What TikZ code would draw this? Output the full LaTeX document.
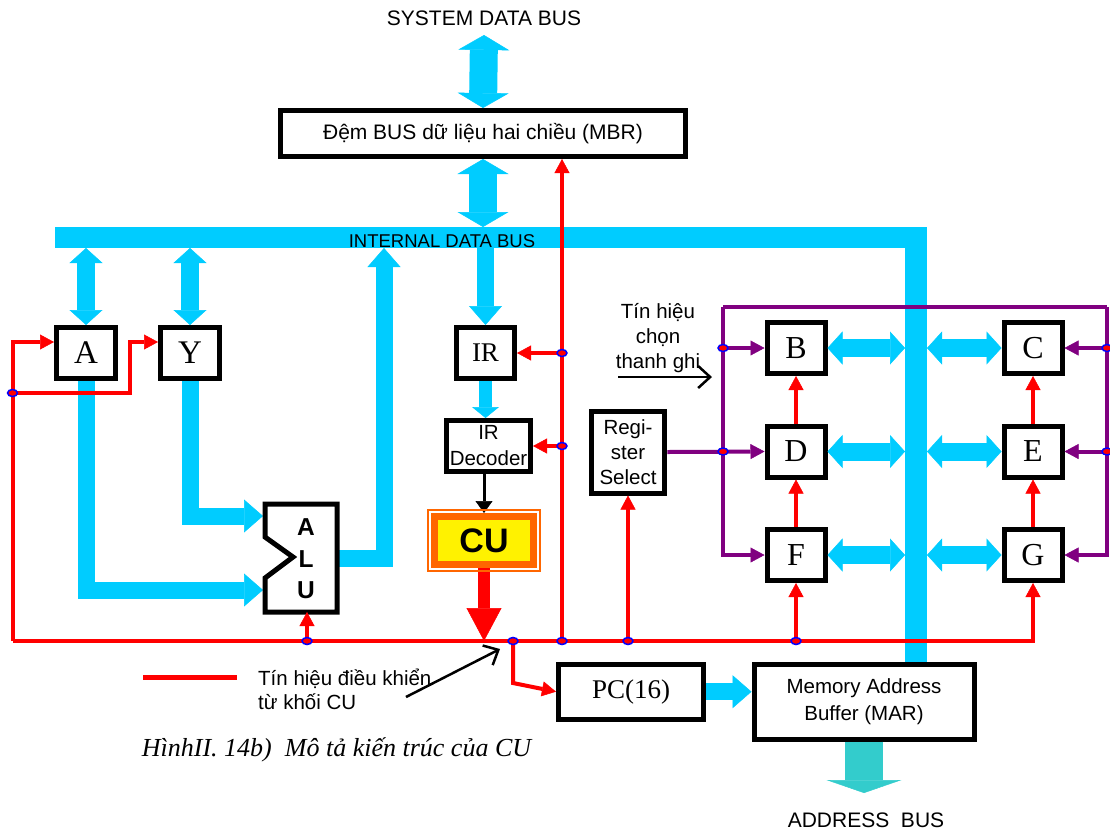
\documentclass[tikz,border=0pt]{standalone}
\usepackage{fontspec}
\setmainfont{Liberation Sans}
\newfontfamily\tmsfont{Liberation Serif}
\usepackage{tikz}
\usetikzlibrary{arrows.meta,positioning,shapes.geometric}
\definecolor{busblue}{HTML}{00CCFF}
\definecolor{selpurple}{HTML}{800080}
\definecolor{addrteal}{HTML}{33CCCC}
\definecolor{cuorange}{HTML}{FF6600}
\newcommand{\fsz}[2]{\fontsize{#1}{#2}\selectfont}

\begin{document}
\begin{tikzpicture}[
  x=1pt, y=-1pt,
  txt/.style={font=\fsz{20.5}{25}, align=center, inner sep=0pt},
  reg/.style={draw, line width=5pt, fill=white, inner sep=0pt, minimum width=58pt, minimum height=51pt, font=\tmsfont\fsz{32}{36}},
  blk/.style={draw, line width=5pt, fill=white, inner sep=0pt, align=center, font=\fsz{20.5}{25}},
  bigdbl/.style={busblue, line width=28pt, {Triangle[length=15pt,width=51pt,line width=0.5pt]}-{Triangle[length=15pt,width=51pt,line width=0.5pt]}},
  dbl/.style={busblue, line width=18pt, {Triangle[length=15pt,width=33pt,line width=0.5pt]}-{Triangle[length=15pt,width=33pt,line width=0.5pt]}},
  busarr/.style={busblue, line width=17pt, -{Triangle[length=19pt,width=33pt,line width=0.5pt]}},
  ctl/.style={red, line width=4pt},
  ctlarr/.style={ctl, -{Triangle[length=14pt,width=15pt,line width=0.5pt]}},
  sel/.style={selpurple, line width=4pt},
  selarr/.style={sel, -{Triangle[length=14pt,width=15pt,line width=0.5pt]}},
  hint/.style={black, line width=2.5pt, -{Straight Barb[length=12pt,width=22pt]}},
  jdot/.style={ellipse, draw=blue, fill=red, line width=1.5pt, minimum width=10pt, minimum height=7pt, inner sep=0pt}
]
\useasboundingbox (0,0) rectangle (1110,831);

\node[txt, font=\fsz{21}{25}] (sysbus) at (484,18) {SYSTEM DATA BUS};
\node[blk, minimum width=405pt, minimum height=46pt, font=\fsz{21}{25}] (mbr) at (483,133.5) {Đệm BUS dữ liệu hai chiều (MBR)};
\node[reg, minimum width=59pt, font=\tmsfont\fsz{33}{36}] (A) at (86,353) {A};
\node[reg, minimum width=59pt, font=\tmsfont\fsz{33}{36}] (Y) at (190,353) {Y};
\node[reg, font=\tmsfont\fsz{27}{30}] (IR) at (485.5,353) {IR};
\node[blk, minimum width=84pt, minimum height=51pt, font=\fsz{20.5}{26}] (dec) at (488.5,446) {IR\\Decoder};
\node[draw=cuorange, line width=7pt, fill=yellow, minimum width=99pt, minimum height=48pt, inner sep=0pt, font=\bfseries\fsz{34}{36}] (cu) at (484,540.5) {CU};
\node[blk, minimum width=73.5pt, minimum height=82pt] (rs) at (628,452) {Regi-\\ster\\Select};
\node[reg] (B) at (796,348) {B};
\node[reg, below=47.5pt of B] (D) {D};
\node[reg, below=47.5pt of D] (F) {F};
\node[reg, right=174pt of B] (C) {C};
\node[reg, below=47.5pt of C] (E) {E};
\node[reg, below=47.5pt of E] (G) {G};
\node[blk, minimum width=145pt, minimum height=55pt, font=\tmsfont\fsz{27}{30}] (pc) at (631,691.7) {PC(16)};
\node[blk, minimum width=220pt, minimum height=75pt, font=\fsz{20.5}{27}] (mar) at (864,701.7) {Memory Address\\Buffer (MAR)};
\node[minimum width=72pt, minimum height=108pt, inner sep=0pt, outer sep=0pt] (alu) at (301,558) {};

\coordinate (sysb) at (484,35);
\coordinate (ibL) at (55,237.5);
\coordinate (ibR) at (916,237.5);
\coordinate (ibtop) at (0,227);
\coordinate (ibbot) at (0,248);
\coordinate (ibl) at (905,0);
\coordinate (ibr) at (927,0);
\coordinate (aluup) at (384,248);
\coordinate (abus) at (864,793);
\coordinate (cl) at (12.5,641);
\coordinate (jA) at (12.5,393);
\coordinate (yk) at (130,393);
\coordinate (jALU) at (307,641);
\coordinate (jPC) at (513,641);
\coordinate (pck) at (513,683);
\coordinate (jV) at (562,641);
\coordinate (jIR) at (jV |- IR.east);
\coordinate (jDec) at (jV |- dec.east);
\coordinate (jRS) at (rs.south |- cl);
\coordinate (jF) at (F.south |- cl);
\coordinate (selTL) at (723,307);
\coordinate (selTR) at (1107,307);
\coordinate (jB) at (selTL |- B.west);
\coordinate (jD) at (selTL |- D.west);
\coordinate (jC) at (selTR |- C.east);
\coordinate (jE) at (selTR |- E.east);
\coordinate (selfrom) at (618,377);
\coordinate (selto) at (712,377);
\coordinate (lg1) at (143,677);
\coordinate (lg2) at (237,677);
\coordinate (lgfrom) at (406,697);
\coordinate (lgto) at (500,649);

\draw[busblue, line width=21.5pt] (ibL) -- (ibR) -- (ibR |- mar.north);
\draw[bigdbl] (sysb) -- (mbr.north);
\draw[bigdbl] (mbr.south) -- (mbr.south |- ibtop);
\draw[dbl] (A.north |- ibbot) -- (A.north);
\draw[dbl] (Y.north |- ibbot) -- (Y.north);
\draw[busarr] (IR.north |- ibbot) -- (IR.north);
\draw[busblue, line width=13pt, -{Triangle[length=11pt,width=27pt,line width=0.5pt]}] (IR.south) -- (IR.south |- dec.north);
\draw[busarr] (Y.south) |- ([xshift=-2pt,yshift=-12pt]alu.north west);
\draw[busarr] (A.south) |- ([xshift=-2pt,yshift=22pt]alu.south west);
\draw[busarr] (alu.east) -| (aluup);
\foreach \r in {B,D,F} \draw[dbl] (\r.east) -- (\r.east -| ibl);
\foreach \r in {C,E,G} \draw[dbl] (\r.west -| ibr) -- (\r.west);
\draw[busarr] (pc.east) -- (pc.east -| mar.west);
\draw[addrteal, line width=38pt, -{Triangle[length=13pt,width=75pt,line width=0.5pt]}] (mar.south) -- (abus);

\draw[line width=5pt, fill=white] (alu.north west) -- (alu.north east) -- (alu.south east) -- (alu.south west) -- ++(0,-34) -- ++(28,-21) -- ++(-28,-20) -- cycle;
\node[font=\bfseries\fsz{24.5}{31.5}, align=center, inner sep=0pt] (alutxt) at (306,559) {A\\L\\U};
\node[font=\fsz{18.5}{20}, inner sep=0pt, anchor=base] (iblbl) at (442,247) {INTERNAL DATA BUS};

\draw[sel] (selTL) -- (selTR);
\draw[selarr] (selTL) |- (F.west);
\draw[selarr] (selTR) |- (G.east);
\draw[selarr] (jB) -- (B.west);
\draw[selarr] (rs.east) -- (D.west);
\draw[selarr] (jC) -- (C.east);
\draw[selarr] (jE) -- (E.east);

\draw[ctlarr] (cl) -| (G.south);
\draw[ctlarr] (cl) |- ([yshift=11pt]A.west);
\draw[ctlarr] (jA) -- (yk) |- ([yshift=11pt]Y.west);
\draw[ctlarr] (jALU) -- (jALU |- alu.south);
\draw[ctlarr] (jV) -- (jV |- mbr.south);
\draw[ctlarr] (jIR) -- (jIR -| IR.east);
\draw[ctlarr] (jDec) -- (jDec -| dec.east);
\draw[ctlarr] (jRS) -- (rs.south);
\draw[ctlarr] (jF) -- (F.south);
\draw[ctlarr] (F.north) -- (D.south);
\draw[ctlarr] (D.north) -- (B.south);
\draw[ctlarr] (G.north) -- (E.south);
\draw[ctlarr] (E.north) -- (C.south);
\draw[ctlarr] (jPC) -- (pck) -- (pc.west);

\draw[red, line width=12pt, -{Triangle[length=33pt,width=35pt,line width=0.5pt]}] (cu.south) -- (cu.south |- cl);
\draw[line width=3pt, -{Triangle[length=12pt,width=17pt,line width=0.5pt]}] (cu.north |- dec.south) -- (cu.north);
\draw[cuorange, line width=1.5pt] ([shift={(-3pt,3pt)}]cu.north west) rectangle ([shift={(3pt,-3pt)}]cu.south east);

\node[txt] (seltxt) at (658,338) {Tín hiệu\\chọn\\thanh ghi};
\draw[hint] (selfrom) -- (selto);
\draw[red, line width=5pt] (lg1) -- (lg2);
\node[txt, anchor=west, align=left, font=\fsz{20.5}{24}] (lgtxt) at (258,689) {Tín hiệu điều khiển\\từ khối CU};
\draw[hint] (lgfrom) -- (lgto);
\node[font=\tmsfont\itshape\fsz{26}{30}, inner sep=0pt] (caption) at (336.5,750) {HìnhII. 14b)\ \ Mô tả kiến trúc của CU};
\node[txt, font=\fsz{21}{25}] (abustxt) at (866,820) {ADDRESS\ \ BUS};

\foreach \j in {jA,jALU,jPC,jV,jIR,jDec,jRS,jF,jB,jD,jC,jE} \node[jdot] (d-\j) at (\j) {};
\end{tikzpicture}
\end{document}
